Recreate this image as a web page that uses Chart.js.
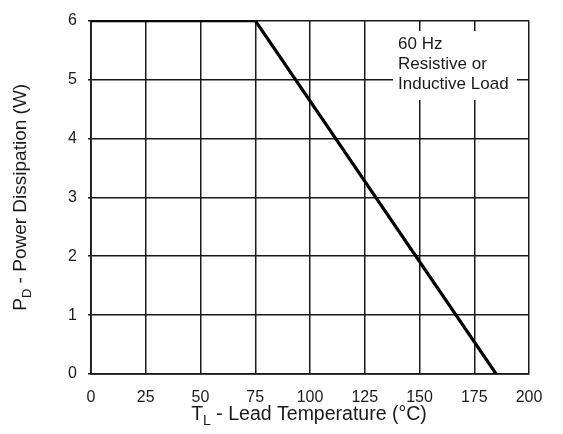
<!DOCTYPE html>
<html><head><meta charset="utf-8">
<script src="https://cdn.jsdelivr.net/npm/chart.js@4/dist/chart.umd.min.js"></script>
<style>html,body{margin:0;padding:0;background:#fff}#wrap{width:563px;height:434px}</style>
</head><body><div id="wrap"><canvas id="c" width="563" height="434"></canvas></div>
<script>
const tempC = [0, 75, 185];
const powerW = [6, 6, 0];
const xTicks = [0, 25, 50, 75, 100, 125, 150, 175, 200];
const yTicks = [0, 1, 2, 3, 4, 5, 6];
const noteLines = ['60 Hz', 'Resistive or', 'Inductive Load'];
const xTitleParts = ['T', 'L', ' - Lead Temperature (°C)'];
const yTitleParts = ['P', 'D', ' - Power Dissipation (W)'];

const FONT = '"Liberation Sans", Arial, sans-serif';
const INK = '#1a1a1a';

function drawSubTitle(ctx, parts, cx, cy, size) {
  const big = size + 'px ' + FONT, small = Math.round(size * 0.7) + 'px ' + FONT;
  ctx.font = big; const w0 = ctx.measureText(parts[0]).width;
  ctx.font = small; const w1 = ctx.measureText(parts[1]).width;
  ctx.font = big; const w2 = ctx.measureText(parts[2]).width;
  let x = cx - (w0 + w1 + w2) / 2;
  ctx.textBaseline = 'middle'; ctx.textAlign = 'left'; ctx.fillStyle = INK;
  ctx.font = big; ctx.fillText(parts[0], x, cy); x += w0;
  ctx.font = small; ctx.fillText(parts[1], x, cy + 6); x += w1;
  ctx.font = big; ctx.fillText(parts[2], x, cy);
}

const decor = {
  id: 'decor',
  afterDraw(chart) {
    const ctx = chart.ctx, a = chart.chartArea;
    ctx.save();
    // note box
    ctx.fillStyle = '#fff';
    ctx.fillRect(393, 31, 124, 69);
    ctx.fillStyle = INK; ctx.font = '17px ' + FONT;
    ctx.textAlign = 'left'; ctx.textBaseline = 'middle';
    noteLines.forEach((t, i) => ctx.fillText(t, 398, 44 + i * 20));
    // x title
    drawSubTitle(ctx, xTitleParts, 309, 415, 19.5);
    // y title
    ctx.translate(21, (a.top + a.bottom) / 2);
    ctx.rotate(-Math.PI / 2);
    drawSubTitle(ctx, yTitleParts, 0, 0, 19);
    ctx.restore();
  }
};

new Chart(document.getElementById('c'), {
  type: 'scatter',
  data: {
    datasets: [{
      data: tempC.map((t, i) => ({ x: t, y: powerW[i] })),
      showLine: true,
      borderColor: '#000',
      borderWidth: 3.2,
      pointRadius: 0,
      fill: false,
      tension: 0
    }]
  },
  options: {
    responsive: false,
    animation: false,
    devicePixelRatio: 1,
    layout: { padding: { left: 0, right: 34, top: 19, bottom: 0 } },
    plugins: { legend: { display: false }, tooltip: { enabled: false } },
    scales: {
      x: {
        type: 'linear', min: 0, max: 200,
        afterBuildTicks: s => { s.ticks = xTicks.map(v => ({ value: v })); },
        afterFit: s => { s.height = 60; },
        grid: { color: INK, lineWidth: 1.5, drawTicks: false },
        border: { color: INK, width: 1.8 },
        ticks: { padding: 14, color: INK, font: { family: FONT, size: 16 }, maxRotation: 0 }
      },
      y: {
        type: 'linear', min: 0, max: 6,
        afterBuildTicks: s => { s.ticks = yTicks.map(v => ({ value: v })); },
        afterFit: s => { s.width = 91; },
        grid: { color: INK, lineWidth: 1.5, tickLength: 3 },
        border: { color: INK, width: 1.8 },
        ticks: { padding: 11, color: INK, font: { family: FONT, size: 16 } }
      }
    }
  },
  plugins: [decor]
});
</script></body></html>
